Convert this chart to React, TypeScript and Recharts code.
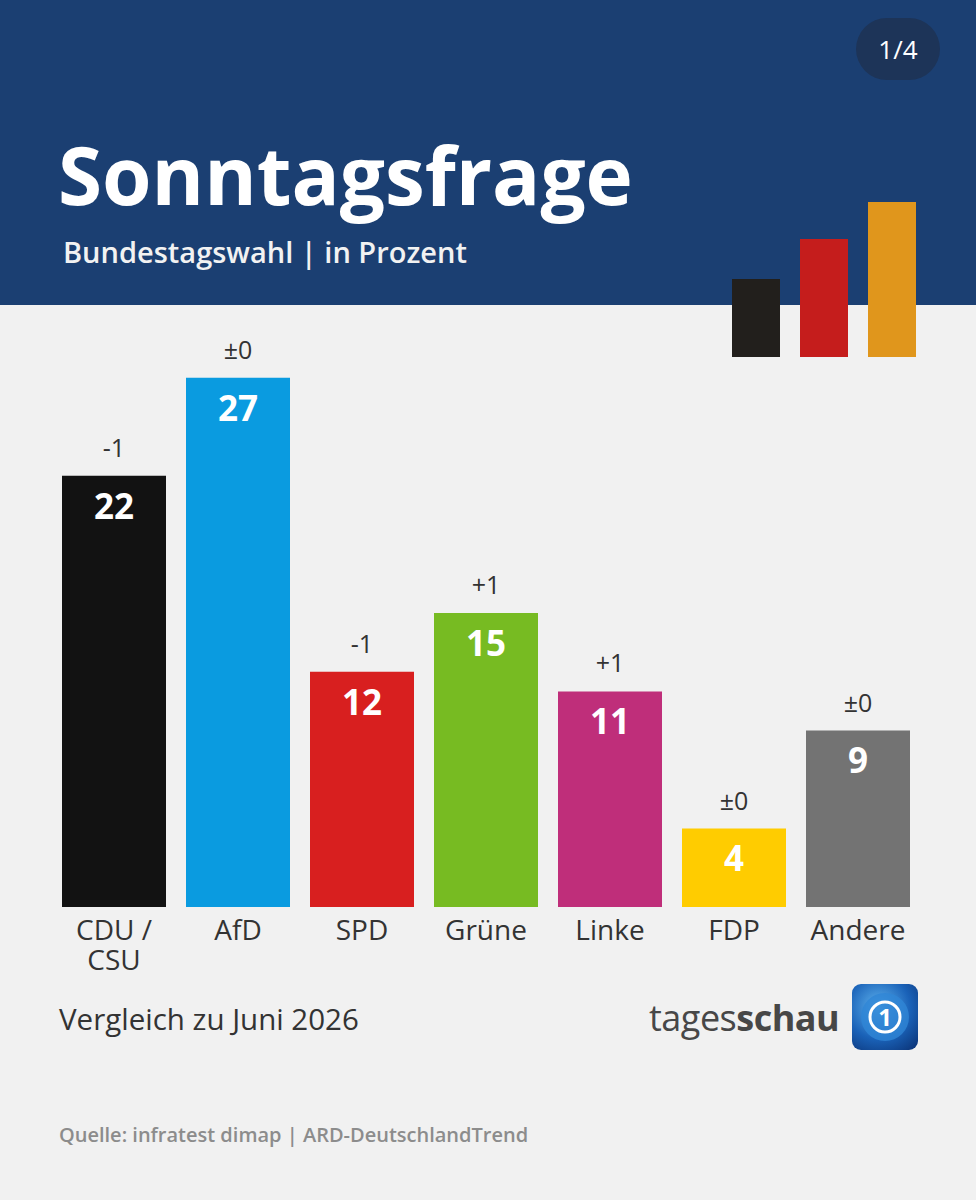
import { Bar, BarChart, Cell, LabelList, XAxis, YAxis } from "recharts";

const parties = ["CDU / CSU", "AfD", "SPD", "Grüne", "Linke", "FDP", "Andere"];
const shares = [22, 27, 12, 15, 11, 4, 9];
const changes = ["-1", "±0", "-1", "+1", "+1", "±0", "±0"];
const partyColors = ["#121212", "#0a9be0", "#d81f1f", "#77bb22", "#bf2e7a", "#ffcc00", "#737373"];

const FONT = "'Open Sans', 'Noto Sans', sans-serif";
const INK = "#333333";

function PartyTick({ x, y, payload }: any) {
  const label: string = payload.value;
  const lines = label.includes(" / ")
    ? [label.split(" / ")[0] + " /", label.split(" / ")[1]]
    : [label];
  return (
    <g>
      {lines.map((l, i) => (
        <text
          key={l}
          x={x}
          y={y + 33 + i * 30}
          textAnchor="middle"
          fontFamily={FONT}
          fontSize={28}
          fill={INK}
        >
          {l}
        </text>
      ))}
    </g>
  );
}

export default function App() {
  const data = parties.map((p, i) => ({
    party: p,
    share: shares[i],
    change: changes[i],
  }));

  return (
    <div
      style={{
        position: "relative",
        width: 976,
        height: 1200,
        background: "#f1f1f1",
        fontFamily: FONT,
        overflow: "hidden",
      }}
    >
      <style>{"body{margin:0}"}</style>
      {/* header band */}
      <div
        style={{
          position: "absolute",
          left: 0,
          top: 0,
          width: 976,
          height: 305,
          background: "#1b3f72",
        }}
      />
      <div
        style={{
          position: "absolute",
          left: 856,
          top: 18,
          width: 84,
          height: 62,
          borderRadius: 31,
          background: "#1d3458",
          color: "#fff",
          fontSize: 26,
          lineHeight: "62px",
          textAlign: "center",
        }}
      >
        1/4
      </div>
      <div
        style={{
          position: "absolute",
          left: 58,
          top: 124,
          color: "#fff",
          fontSize: 80,
          fontWeight: 700,
          lineHeight: "100px",
        }}
      >
        Sonntagsfrage
      </div>
      <div
        style={{
          position: "absolute",
          left: 63,
          top: 232,
          color: "#f2f2f2",
          fontSize: 29,
          fontWeight: 600,
          lineHeight: "40px",
        }}
      >
        Bundestagswahl | in Prozent
      </div>
      {/* flag bars */}
      <div style={{ position: "absolute", left: 732, top: 279, width: 48, height: 78, background: "#221f1c" }} />
      <div style={{ position: "absolute", left: 800, top: 239, width: 48, height: 118, background: "#c51d1c" }} />
      <div style={{ position: "absolute", left: 868, top: 202, width: 48, height: 155, background: "#e0961c" }} />

      <div style={{ position: "absolute", left: 0, top: 0 }}>
        <BarChart
          width={976}
          height={1000}
          data={data}
          margin={{ top: 319, right: 56, bottom: 63, left: 52 }}
          barCategoryGap={10}
        >
          <XAxis
            dataKey="party"
            axisLine={false}
            tickLine={false}
            tickSize={0}
            tickMargin={0}
            height={30}
            interval={0}
            tick={<PartyTick />}
          />
          <YAxis hide domain={[0, 30]} />
          <Bar dataKey="share" isAnimationActive={false}>
            {data.map((d, i) => (
              <Cell key={d.party} fill={partyColors[i]} />
            ))}
            <LabelList
              dataKey="share"
              position="insideTop"
              offset={18}
              fill="#ffffff"
              fontSize={35}
              fontWeight={700}
              fontFamily={FONT}
            />
            <LabelList
              dataKey="change"
              position="top"
              offset={19}
              fill={INK}
              fontSize={25}
              fontFamily={FONT}
            />
          </Bar>
        </BarChart>
      </div>

      <div
        style={{
          position: "absolute",
          left: 59,
          top: 999,
          color: INK,
          fontSize: 29.5,
          lineHeight: "40px",
        }}
      >
        Vergleich zu Juni 2026
      </div>
      <div
        style={{
          position: "absolute",
          left: 649,
          top: 993,
          color: "#474747",
          fontSize: 36,
          lineHeight: "50px",
          letterSpacing: -0.5,
        }}
      >
        tages<span style={{ fontWeight: 700 }}>schau</span>
      </div>
      <svg style={{ position: "absolute", left: 852, top: 984 }} width={66} height={66}>
        <defs>
          <radialGradient id="globe" cx="0.4" cy="0.35" r="0.8">
            <stop offset="0" stopColor="#5fb4ef" />
            <stop offset="0.6" stopColor="#1a62b8" />
            <stop offset="1" stopColor="#0d3a80" />
          </radialGradient>
        </defs>
        <rect x={0} y={0} width={66} height={66} rx={9} fill="url(#globe)" />
        <circle cx={33} cy={33} r={24} fill="#2f86d6" opacity={0.8} />
        <circle cx={33} cy={33} r={15} fill="none" stroke="#ffffff" strokeWidth={3} />
        <text x={33} y={42} textAnchor="middle" fontFamily={FONT} fontWeight={700} fontSize={24} fill="#ffffff">
          1
        </text>
      </svg>
      <div
        style={{
          position: "absolute",
          left: 59,
          top: 1120,
          color: "#8c8c8c",
          fontSize: 20,
          fontWeight: 600,
          lineHeight: "30px",
        }}
      >
        Quelle: infratest dimap | ARD-DeutschlandTrend
      </div>
    </div>
  );
}
